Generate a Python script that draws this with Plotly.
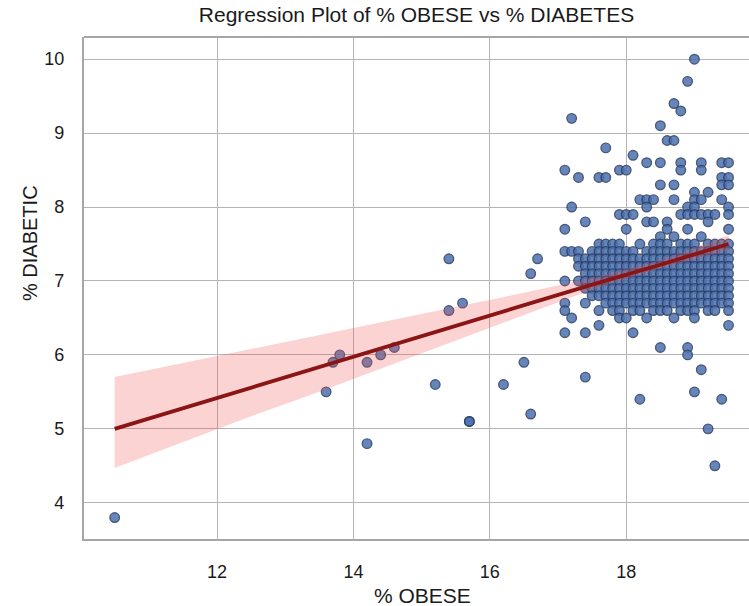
import plotly.graph_objects as go

# ---------------- data ----------------
# sparse points (x = % OBESE, y = % DIABETIC)
sparse_obese = [10.5, 13.6, 13.7, 13.8, 14.2, 14.2, 14.4, 14.6, 15.2, 15.4, 15.6, 15.7, 15.7,
                16.2, 15.4, 16.5, 16.6, 17.4, 18.2, 18.5, 18.9, 18.9, 19.1, 19.0, 19.4, 19.2,
                19.3, 19.5, 17.4, 17.1, 18.1, 17.6]
sparse_diabetic = [3.8, 5.5, 5.9, 6.0, 5.9, 4.8, 6.0, 6.1, 5.6, 6.6, 6.7, 5.1, 5.1,
                   5.6, 7.3, 5.9, 5.2, 5.7, 5.4, 6.1, 6.1, 6.0, 5.8, 5.5, 5.4, 5.0,
                   4.5, 6.4, 6.3, 6.3, 6.3, 6.4]

# rows of points: each row is a % DIABETIC value and the % OBESE values on it
row_levels = [10.0, 9.7, 9.4, 9.3, 9.2, 9.1, 8.9, 8.8, 8.7, 8.6, 8.5, 8.4, 8.3, 8.2, 8.1,
              8.0, 7.9, 7.8, 7.7, 7.6, 7.5, 7.4, 7.3, 7.2, 7.1, 7.0, 6.9, 6.8, 6.7, 6.6,
              6.5]
row_obese = [
    [19.0],
    [18.9],
    [18.7],
    [18.8],
    [17.2],
    [18.5],
    [18.6, 18.7],
    [17.7],
    [18.1],
    [18.3, 18.5, 18.8, 19.1, 19.4, 19.5],
    [17.1, 17.9, 18.0, 18.8, 19.1],
    [17.3, 17.6, 17.7, 19.4, 19.5],
    [18.5, 18.7, 19.4, 19.5],
    [19.0, 19.2],
    [18.2, 18.3, 18.4, 18.7, 19.0, 19.1, 19.4],
    [17.2, 18.3, 18.9, 19.0, 19.5],
    [17.9, 18.0, 18.1, 18.8, 18.9, 19.0, 19.1, 19.2, 19.3, 19.5],
    [17.4, 18.3, 18.4, 18.6, 19.2],
    [17.1, 18.0, 18.6, 18.9, 19.5],
    [18.5, 18.7, 19.1],
    [17.6, 17.7, 17.8, 17.9, 18.2, 18.4, 18.5, 18.6, 18.8, 18.9, 19.0, 19.2, 19.3, 19.4, 19.5],
    [17.1, 17.2, 17.3, 17.5, 17.6, 17.7, 17.8, 17.9, 18.0, 18.1, 18.3, 18.4, 18.5, 18.6, 18.7,
     18.8, 18.9, 19.0, 19.1, 19.2, 19.3, 19.4, 19.5],
    [16.7, 17.3, 17.4, 17.5, 17.6, 17.7, 17.8, 17.9, 18.0, 18.1, 18.2, 18.3, 18.4, 18.5, 18.6,
     18.7, 18.8, 18.9, 19.0, 19.1, 19.2, 19.3, 19.4, 19.5],
    [17.3, 17.4, 17.5, 17.6, 17.7, 17.8, 17.9, 18.0, 18.1, 18.2, 18.3, 18.4, 18.5, 18.6, 18.7,
     18.8, 18.9, 19.0, 19.1, 19.2, 19.3, 19.4, 19.5],
    [16.6, 17.4, 17.5, 17.6, 17.7, 17.8, 17.9, 18.0, 18.1, 18.2, 18.3, 18.4, 18.5, 18.6, 18.7,
     18.8, 18.9, 19.0, 19.1, 19.2, 19.3, 19.4, 19.5],
    [17.1, 17.3, 17.4, 17.5, 17.6, 17.7, 17.8, 17.9, 18.0, 18.1, 18.2, 18.3, 18.4, 18.5, 18.6,
     18.7, 18.8, 18.9, 19.0, 19.1, 19.2, 19.3, 19.4, 19.5],
    [17.4, 17.5, 17.6, 17.7, 17.8, 17.9, 18.0, 18.1, 18.2, 18.3, 18.4, 18.5, 18.6, 18.7, 18.8,
     18.9, 19.0, 19.1, 19.2, 19.3, 19.4, 19.5],
    [17.5, 17.6, 17.7, 17.8, 17.9, 18.0, 18.1, 18.2, 18.3, 18.4, 18.5, 18.6, 18.7, 18.8, 18.9,
     19.0, 19.1, 19.2, 19.3, 19.4, 19.5],
    [17.1, 17.4, 17.7, 17.8, 17.9, 18.0, 18.1, 18.2, 18.3, 18.4, 18.5, 18.6, 18.7, 18.8, 18.9,
     19.0, 19.1, 19.2, 19.3, 19.4, 19.5],
    [17.1, 17.6, 17.8, 17.9, 18.1, 18.2, 18.4, 18.5, 18.6, 18.8, 18.9, 19.0, 19.2, 19.3, 19.5],
    [17.2, 17.9, 18.0, 18.3, 18.7, 19.0],
]

# regression line and its confidence band
fit_obese = [10.5, 11.5, 12.5, 13.5, 14.5, 15.5, 16.5, 17.5, 18.5, 19.5]
fit_diabetic = [5.00, 5.28, 5.56, 5.83, 6.11, 6.39, 6.67, 6.95, 7.22, 7.50]
ci_high = [5.70, 5.89, 6.08, 6.26, 6.45, 6.65, 6.84, 7.04, 7.28, 7.62]
ci_low = [4.47, 4.82, 5.17, 5.50, 5.85, 6.20, 6.54, 6.88, 7.17, 7.41]

x_ticks = [12, 14, 16, 18]
y_ticks = [4, 5, 6, 7, 8, 9, 10]

# ---------------- build point lists ----------------
obese = list(sparse_obese)
diabetic = list(sparse_diabetic)
for level, xs in zip(row_levels, row_obese):
    obese.extend(xs)
    diabetic.extend([level] * len(xs))

FONT = "Liberation Sans, Arial, sans-serif"
TXT = "#1a1a1a"
GRID = "#b5b5b5"
FRAME = "#a6a6a6"

fig = go.Figure()

fig.add_trace(go.Scatter(
    x=obese, y=diabetic, mode="markers",
    marker=dict(size=9.5, color="#4C72B0", opacity=0.85,
                line=dict(width=1.4, color="#2a3d63")),
    showlegend=False, hoverinfo="skip"))

fig.add_trace(go.Scatter(
    x=fit_obese, y=ci_low, mode="lines", line=dict(width=0),
    showlegend=False, hoverinfo="skip"))
fig.add_trace(go.Scatter(
    x=fit_obese, y=ci_high, mode="lines", line=dict(width=0),
    fill="tonexty", fillcolor="rgba(240,80,80,0.25)",
    showlegend=False, hoverinfo="skip"))

fig.add_trace(go.Scatter(
    x=fit_obese, y=fit_diabetic, mode="lines",
    line=dict(width=3.8, color="#8B1515"),
    showlegend=False, hoverinfo="skip"))

fig.update_layout(
    width=749, height=606,
    margin=dict(l=84, r=0, t=37, b=67),
    paper_bgcolor="white", plot_bgcolor="white",
    font=dict(family=FONT, color=TXT),
    title=dict(text="Regression Plot of % OBESE vs % DIABETES",
               x=0.5, xref="paper", xanchor="center",
               y=1 - 15 / 606, yref="container", yanchor="middle",
               font=dict(size=21, family=FONT, color=TXT)),
    xaxis=dict(range=[10.05, 19.8], tickvals=x_ticks, ticktext=[str(v) for v in x_ticks],
               showgrid=True, gridcolor=GRID, gridwidth=1.4,
               zeroline=False, showline=True, linecolor=FRAME, linewidth=2.2,
               ticks="", ticklabelstandoff=15,
               tickfont=dict(size=18, family=FONT, color=TXT)),
    yaxis=dict(range=[3.51, 10.30], tickvals=y_ticks, ticktext=[str(v) for v in y_ticks],
               showgrid=True, gridcolor=GRID, gridwidth=1.4,
               zeroline=False, showline=True, linecolor=FRAME, linewidth=2.2,
               ticks="", ticklabelstandoff=14,
               tickfont=dict(size=18, family=FONT, color=TXT)),
    shapes=[dict(type="line", xref="paper", yref="paper", x0=0, x1=1, y0=1, y1=1,
                 line=dict(color=FRAME, width=2.2))],
    annotations=[
        dict(text="% OBESE", xref="paper", yref="paper",
             x=(422 - 84) / 665, y=-(595 - 539) / 502, xanchor="center", yanchor="middle",
             showarrow=False, font=dict(size=21, family=FONT, color=TXT)),
        dict(text="% DIABETIC", xref="paper", yref="paper",
             x=-(84 - 30) / 665, y=(539 - 243) / 502, xanchor="center", yanchor="middle",
             textangle=-90, showarrow=False, font=dict(size=20, family=FONT, color=TXT)),
    ],
)

fig.write_html("out.html",
               config={"displayModeBar": False},
               post_script="document.body.style.margin='0';document.body.style.overflow='hidden';")
